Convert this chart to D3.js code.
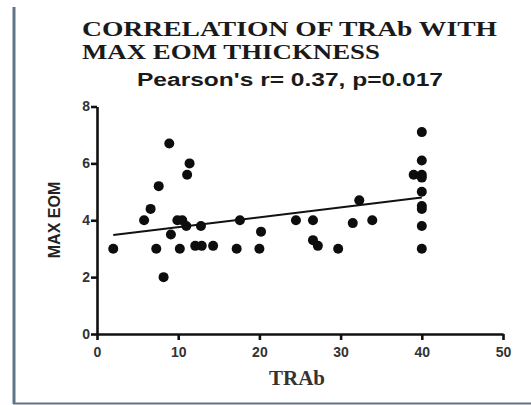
<!DOCTYPE html>
<html lang="en">
<head>
    <meta charset="UTF-8">
    <title>Correlation of TRAb with max EOM thickness</title>
    <script type="text/javascript" src="https://cdn.jsdelivr.net/npm/d3@7"></script>
    <style type="text/css">
        body { margin: 0; background: #fff; }
        svg { display: block; }
    </style>
</head>
<body>
    <script type="text/javascript">

        var w = 531;
        var h = 405;

        // TRAb values and matching max EOM thickness
        var trab = [2, 5.8, 6.6, 7.6, 7.3, 8.2, 8.9, 9.1, 9.9, 10.5, 10.2, 11.0, 11.1, 11.4,
                    12.1, 12.9, 14.3, 12.8, 17.2, 17.6, 20.0, 20.2,
                    24.5, 26.6, 26.6, 27.2, 29.7, 31.5, 32.3, 33.9, 39.0,
                    40, 40, 40, 40, 40, 40, 40, 40, 40];
        var eom  = [3, 4.0, 4.4, 5.2, 3.0, 2.0, 6.7, 3.5, 4.0, 4.0, 3.0, 3.8, 5.6, 6.0,
                    3.1, 3.1, 3.1, 3.8, 3.0, 4.0, 3.0, 3.6,
                    4.0, 4.0, 3.3, 3.1, 3.0, 3.9, 4.7, 4.0, 5.6,
                    7.1, 6.1, 5.6, 5.5, 5.0, 4.5, 4.4, 3.8, 3.0];

        // fitted line as drawn in the picture
        var fitX = [2, 40];
        var fitY = [3.48, 4.80];

        var xTicks = [0, 10, 20, 30, 40, 50];
        var yTicks = [0, 2, 4, 6, 8];

        var svg = d3.select("body")
                    .append("svg")
                    .attr("width", w)
                    .attr("height", h);

        // frame lines on the left and bottom of the picture
        svg.append("line")
            .attr("x1", 14).attr("x2", 14)
            .attr("y1", 7).attr("y2", 404)
            .attr("stroke", "#5f7489").attr("stroke-width", 3);
        svg.append("line")
            .attr("x1", 13).attr("x2", w)
            .attr("y1", 403.5).attr("y2", 403.5)
            .attr("stroke", "#5f7489").attr("stroke-width", 2);

        var x = d3.scaleLinear().domain([0, 50]).range([97, 503]);
        var y = d3.scaleLinear().domain([0, 8]).range([334, 106.5]);

        var xAxis = d3.axisBottom(x).tickValues(xTicks).tickSize(6).tickSizeOuter(0).tickPadding(7);
        var yAxis = d3.axisLeft(y).tickValues(yTicks).tickSize(6).tickSizeOuter(0).tickPadding(1);

        var gx = svg.append("g").attr("transform", "translate(0," + y(0) + ")").call(xAxis);
        var gy = svg.append("g").attr("transform", "translate(" + x(0) + ",0)").call(yAxis);

        [gx, gy].forEach(function(g) {
            g.selectAll("path, line").attr("stroke", "#111").attr("stroke-width", 2.6);
            g.selectAll("text")
                .attr("font-family", "Liberation Sans, Arial, sans-serif")
                .attr("font-weight", "bold")
                .attr("font-size", "14px")
                .attr("fill", "#333");
        });

        // regression line
        svg.append("line")
            .attr("x1", x(fitX[0])).attr("y1", y(fitY[0]))
            .attr("x2", x(fitX[1])).attr("y2", y(fitY[1]))
            .attr("stroke", "#111").attr("stroke-width", 2);

        svg.selectAll("circle")
            .data(trab)
            .enter()
            .append("circle")
            .attr("cx", function(d) { return x(d); })
            .attr("cy", function(d, i) { return y(eom[i]); })
            .attr("r", 5)
            .attr("fill", "#0d0d0d");

        // titles
        svg.append("text")
            .text("CORRELATION OF TRAb WITH")
            .attr("x", 82).attr("y", 36)
            .attr("textLength", 415).attr("lengthAdjust", "spacingAndGlyphs")
            .attr("font-family", "Liberation Serif, Times New Roman, serif")
            .attr("font-weight", "bold").attr("font-size", "21px")
            .attr("fill", "#1a1a1a");
        svg.append("text")
            .text("MAX EOM THICKNESS")
            .attr("x", 82).attr("y", 59)
            .attr("textLength", 298).attr("lengthAdjust", "spacingAndGlyphs")
            .attr("font-family", "Liberation Serif, Times New Roman, serif")
            .attr("font-weight", "bold").attr("font-size", "21px")
            .attr("fill", "#1a1a1a");
        svg.append("text")
            .text("Pearson's r= 0.37, p=0.017")
            .attr("x", 137).attr("y", 86)
            .attr("textLength", 306).attr("lengthAdjust", "spacingAndGlyphs")
            .attr("font-family", "Liberation Sans, Arial, sans-serif")
            .attr("font-weight", "bold").attr("font-size", "18px")
            .attr("fill", "#1a1a1a");

        // axis titles
        svg.append("text")
            .text("TRAb")
            .attr("x", 297).attr("y", 385)
            .attr("text-anchor", "middle")
            .attr("font-family", "Liberation Serif, Times New Roman, serif")
            .attr("font-weight", "bold").attr("font-size", "21px")
            .attr("fill", "#333");
        svg.append("text")
            .text("MAX EOM")
            .attr("transform", "translate(60,220) rotate(-90)")
            .attr("text-anchor", "middle")
            .attr("font-family", "Liberation Sans, Arial, sans-serif")
            .attr("font-weight", "bold").attr("font-size", "16px")
            .attr("fill", "#222");

    </script>
</body>
</html>
